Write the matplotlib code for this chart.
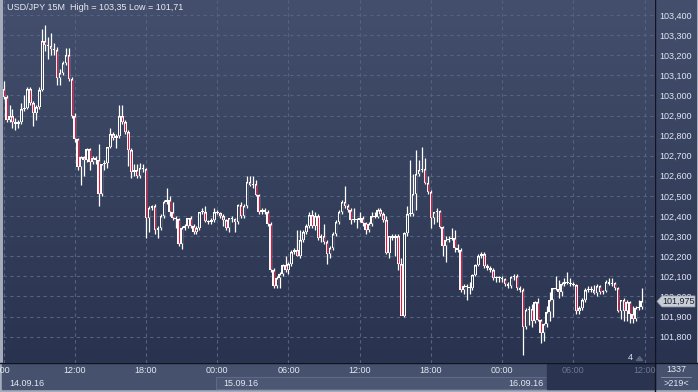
import numpy as np
import matplotlib
matplotlib.use("Agg")
import matplotlib.pyplot as plt
from matplotlib.patches import Rectangle, Polygon
from matplotlib import transforms

# USD/JPY 15 minute candles, 14.09.16 06:00 -> 16.09.16 11:45
opens = [103.03, 102.99, 102.88, 102.90, 102.87, 102.86, 102.87, 102.93, 102.935, 103.03,
         102.96, 102.91, 102.94, 103.025, 103.27, 103.25, 103.245, 103.23, 103.225, 103.085,
         103.11, 103.16, 103.20, 103.08, 102.90, 102.785, 102.645, 102.695, 102.68, 102.735,
         102.67, 102.69, 102.68, 102.51, 102.66, 102.665, 102.745, 102.81, 102.79, 102.80,
         102.90, 102.87, 102.82, 102.73, 102.62, 102.63, 102.60, 102.64, 102.635, 102.39,
         102.44, 102.45, 102.33, 102.34, 102.40, 102.47, 102.48, 102.42, 102.39, 102.385,
         102.26, 102.34, 102.35, 102.39, 102.35, 102.32, 102.34, 102.42, 102.42, 102.375,
         102.37, 102.38, 102.42, 102.415, 102.40, 102.38, 102.34, 102.39, 102.385, 102.37,
         102.455, 102.40, 102.45, 102.57, 102.555, 102.56, 102.505, 102.42, 102.43, 102.42,
         102.36, 102.13, 102.05, 102.09, 102.11, 102.155, 102.13, 102.16, 102.22, 102.23,
         102.20, 102.28, 102.32, 102.35, 102.405, 102.35, 102.40, 102.29, 102.30, 102.27,
         102.21, 102.24, 102.31, 102.37, 102.42, 102.47, 102.45, 102.43, 102.38, 102.385,
         102.38, 102.39, 102.365, 102.33, 102.36, 102.40, 102.395, 102.43, 102.41, 102.38,
         102.215, 102.30, 102.29, 102.30, 102.16, 101.905, 102.315, 102.41, 102.41, 102.51,
         102.61, 102.63, 102.635, 102.565, 102.52, 102.39, 102.42, 102.425, 102.345, 102.25,
         102.28, 102.285, 102.29, 102.24, 102.23, 102.03, 102.05, 102.045, 102.04, 102.105,
         102.155, 102.20, 102.21, 102.15, 102.14, 102.13, 102.09, 102.095, 102.09, 102.085,
         102.06, 102.05, 102.095, 102.10, 102.04, 102.03, 101.85, 101.93, 101.935, 101.88,
         101.97, 101.885, 101.82, 101.865, 101.92, 101.98, 102.04, 102.035, 102.02, 102.06,
         102.07, 102.065, 102.06, 102.058, 101.925, 101.94, 101.98, 102.03, 102.035, 102.03,
         102.015, 102.05, 102.02, 102.025, 102.07, 102.06, 102.065, 102.04, 101.925, 101.98,
         101.925, 101.97, 101.91, 101.89, 101.94, 101.945]
highs = [103.07, 103.00, 102.95, 102.93, 102.89, 102.88, 102.96, 103.00, 103.04, 103.04,
         102.97, 102.95, 103.04, 103.33, 103.35, 103.29, 103.31, 103.26, 103.24, 103.13,
         103.17, 103.235, 103.235, 103.09, 102.91, 102.79, 102.70, 102.70, 102.74, 102.74,
         102.70, 102.70, 102.76, 102.66, 102.68, 102.745, 102.84, 102.82, 102.81, 102.95,
         102.95, 102.88, 102.83, 102.74, 102.66, 102.66, 102.665, 102.66, 102.64, 102.45,
         102.455, 102.46, 102.35, 102.41, 102.48, 102.54, 102.50, 102.47, 102.40, 102.39,
         102.35, 102.36, 102.39, 102.40, 102.36, 102.35, 102.42, 102.44, 102.45, 102.38,
         102.39, 102.44, 102.43, 102.42, 102.41, 102.385, 102.39, 102.40, 102.39, 102.46,
         102.47, 102.46, 102.60, 102.60, 102.60, 102.58, 102.51, 102.44, 102.44, 102.43,
         102.37, 102.14, 102.10, 102.12, 102.16, 102.20, 102.17, 102.23, 102.24, 102.33,
         102.33, 102.33, 102.36, 102.42, 102.43, 102.42, 102.41, 102.31, 102.36, 102.28,
         102.25, 102.32, 102.38, 102.43, 102.48, 102.55, 102.46, 102.44, 102.44, 102.39,
         102.42, 102.40, 102.37, 102.37, 102.42, 102.42, 102.44, 102.44, 102.42, 102.40,
         102.30, 102.31, 102.31, 102.31, 102.19, 102.32, 102.45, 102.68, 102.61, 102.73,
         102.68, 102.745, 102.69, 102.60, 102.53, 102.42, 102.44, 102.43, 102.35, 102.30,
         102.30, 102.34, 102.33, 102.26, 102.24, 102.06, 102.06, 102.07, 102.11, 102.16,
         102.21, 102.22, 102.22, 102.16, 102.15, 102.14, 102.10, 102.10, 102.10, 102.09,
         102.07, 102.10, 102.11, 102.11, 102.05, 102.04, 101.94, 101.95, 101.96, 101.975,
         101.99, 101.89, 101.87, 101.95, 102.02, 102.04, 102.10, 102.08, 102.07, 102.09,
         102.12, 102.09, 102.07, 102.06, 101.95, 101.99, 102.04, 102.05, 102.05, 102.055,
         102.06, 102.055, 102.03, 102.08, 102.09, 102.09, 102.07, 102.045, 101.98, 101.99,
         101.98, 101.975, 101.95, 101.95, 101.98, 102.04]
lows = [102.98, 102.87, 102.87, 102.84, 102.83, 102.84, 102.86, 102.92, 102.93, 102.95,
        102.85, 102.88, 102.93, 103.02, 103.22, 103.18, 103.20, 103.20, 103.05, 103.05,
        103.10, 103.15, 103.07, 102.89, 102.77, 102.63, 102.555, 102.60, 102.67, 102.63,
        102.66, 102.66, 102.45, 102.50, 102.63, 102.64, 102.74, 102.78, 102.74, 102.79,
        102.86, 102.81, 102.65, 102.59, 102.60, 102.59, 102.59, 102.62, 102.29, 102.32,
        102.43, 102.31, 102.29, 102.33, 102.39, 102.46, 102.40, 102.38, 102.34, 102.25,
        102.235, 102.33, 102.34, 102.34, 102.31, 102.31, 102.33, 102.41, 102.37, 102.36,
        102.36, 102.37, 102.41, 102.39, 102.35, 102.33, 102.32, 102.37, 102.32, 102.36,
        102.39, 102.39, 102.44, 102.55, 102.54, 102.50, 102.41, 102.41, 102.41, 102.35,
        102.12, 102.04, 102.04, 102.04, 102.10, 102.12, 102.11, 102.15, 102.21, 102.20,
        102.19, 102.27, 102.31, 102.34, 102.34, 102.33, 102.28, 102.27, 102.26, 102.16,
        102.19, 102.23, 102.30, 102.36, 102.41, 102.44, 102.42, 102.36, 102.37, 102.34,
        102.37, 102.35, 102.31, 102.32, 102.35, 102.39, 102.39, 102.40, 102.37, 102.21,
        102.19, 102.28, 102.20, 102.13, 102.14, 101.90, 102.30, 102.40, 102.40, 102.43,
        102.60, 102.62, 102.56, 102.51, 102.34, 102.36, 102.37, 102.34, 102.20, 102.17,
        102.27, 102.28, 102.22, 102.22, 102.02, 102.01, 101.98, 102.01, 102.03, 102.10,
        102.15, 102.19, 102.14, 102.13, 102.12, 102.08, 102.07, 102.07, 102.07, 102.05,
        102.04, 102.04, 102.08, 102.03, 102.02, 101.71, 101.84, 101.86, 101.85, 101.87,
        101.88, 101.77, 101.78, 101.85, 101.88, 101.90, 102.03, 101.99, 102.00, 102.05,
        102.06, 102.05, 102.05, 101.91, 101.91, 101.93, 101.97, 102.02, 102.02, 102.01,
        102.00, 102.01, 102.01, 102.02, 102.055, 102.05, 102.03, 101.92, 101.89, 101.88,
        101.88, 101.87, 101.87, 101.88, 101.93, 101.935]
closes = opens[1:] + [101.975]

time_labels = ["06:00", "12:00", "18:00", "00:00", "06:00", "12:00", "18:00", "00:00", "06:00", "12:00"]
day_labels = ["14.09.16", "15.09.16", "16.09.16"]
day_start = [0, 72, 168]
symbol = "USD/JPY 15M"

W, H = 698, 392
fig = plt.figure(figsize=(W / 100, H / 100), dpi=100, facecolor="#a4acbc")
plt.rcParams["font.family"] = ["Liberation Sans", "DejaVu Sans"]

# background panels in pixel coordinates
bg = fig.add_axes([0, 0, 1, 1], zorder=0)
bg.set_xlim(0, W)
bg.set_ylim(H, 0)
bg.axis("off")

top_col = np.array([67, 79, 108]) / 255
bot_col = np.array([41, 51, 80]) / 255
grad = np.linspace(0, 1, 256)[:, None, None] * (bot_col - top_col) + top_col
bg.imshow(np.repeat(grad, 2, axis=1), extent=(655, 697, 363, 0), aspect="auto", zorder=0)
bg.add_patch(Rectangle((2, 363), 695, 26, color="#45516d", zorder=1))
bg.add_patch(Rectangle((216, 377), 331, 12, facecolor="#4b5773", edgecolor="#5d6985", lw=0.8, zorder=1))
bg.add_patch(Rectangle((547, 363), 108, 26, color="#2a3350", zorder=1))
bg.plot([0, W], [363, 363], color="#10141e", lw=1.0, zorder=2)
bg.plot([655, 655], [0, H], color="#10141e", lw=1.0, zorder=2)

# main chart
ax = fig.add_axes([3 / W, 29 / H, 652 / W, 363 / H], zorder=1)
ax.set_facecolor("none")
for s in ax.spines.values():
    s.set_visible(False)
ax.imshow(np.repeat(grad, 2, axis=1), extent=(0, 1, 0, 1), transform=ax.transAxes,
          aspect="auto", zorder=0)

# overlay for things drawn above the price scale
fg = fig.add_axes([0, 0, 1, 1], zorder=2)
fg.set_xlim(0, W)
fg.set_ylim(H, 0)
fg.axis("off")
fg.patch.set_visible(False)

n = len(closes)
x = np.arange(n)
o = np.array(opens)
c = np.array(closes)
hi = np.array(highs)
lo = np.array(lows)

ylo = 103.4 - (363 - 15) * 0.004975
yhi = 103.4 + 15 * 0.004975
ax.set_ylim(ylo, yhi)
ax.set_xlim(-0.2, 219.5)

yt = np.arange(101.8, 103.401, 0.1)
ax.set_xticks(np.arange(0, 217, 24))
ax.set_yticks(yt)
ax.grid(True, color="#56627f", lw=0.8, linestyle=(0, (3, 3)), zorder=1)
ax.tick_params(axis="x", length=0, labelbottom=False)
ax.yaxis.tick_right()
ax.tick_params(axis="y", length=0, pad=3, labelsize=6.5, labelcolor="#dfe6f4")
ax.set_yticklabels([("%.3f" % v).replace(".", ",") for v in yt])

px = (yhi - ylo) / 363
ax.vlines(x, lo, hi, color="white", lw=0.9, zorder=3)
top = np.maximum(o, c)
bot = np.minimum(o, c)
ax.bar(x, np.maximum(top - bot, px), bottom=bot, width=0.9, color="white", lw=0, zorder=3)
inner_lo = bot + px
inner_hi = top - px
bear = c < o
m = inner_hi > inner_lo
ax.vlines(x[m & bear], inner_lo[m & bear], inner_hi[m & bear], color="#e3173f", lw=0.8, zorder=4)
mid = (inner_lo + inner_hi) / 2
frac = np.clip((yhi - mid) / (yhi - ylo), 0, 1)
bull_cols = [tuple(top_col + f * (bot_col - top_col)) for f in frac[m & ~bear]]
ax.vlines(x[m & ~bear], inner_lo[m & ~bear], inner_hi[m & ~bear], colors=bull_cols, lw=0.7, zorder=4)

ax.text(4 / 652, 1 - 8 / 363, f"{symbol}  High = {('%.2f' % hi.max()).replace('.', ',')} "
        f"Low = {('%.2f' % lo.min()).replace('.', ',')}", transform=ax.transAxes,
        color="#e8ebf2", fontsize=6.5, va="center", ha="left", zorder=5)

# time axis labels
tx = transforms.blended_transform_factory(ax.transData, fg.transData)
clip = Rectangle((3, 363), 652, 28, transform=fg.transData, visible=False)
fg.add_patch(clip)
for k, lab in enumerate(time_labels):
    col = "#e3e8f2" if k * 24 < 180 else "#6b7691"
    t = fg.text(k * 24 - (1.5 if k == 0 else 0), 370.5, lab, transform=tx, ha="center", va="center",
                fontsize=6.5, color=col)
    t.set_clip_path(clip)
for d, lab in zip(day_start, day_labels):
    fg.text(d + 2, 383.5, lab, transform=tx, ha="left", va="center",
            fontsize=6.5, color="#e3e8f2")

# last price tag over the price scale
ty = transforms.blended_transform_factory(fg.transData, ax.transData)
last = c[-1]
h = 5.5 * px
fg.add_patch(Polygon([(657, last), (662, last + h), (695, last + h), (695, last - h), (662, last - h)],
                     closed=True, transform=ty, facecolor="#c9cdd5", edgecolor="#9aa0ab", lw=0.5))
fg.text(678.5, last, ("%.3f" % last).replace(".", ","), transform=ty, ha="center", va="center",
        fontsize=6.5, color="#1c2233")

fg.text(676, 369.5, "1337", ha="center", va="center", fontsize=6.5, color="#e3e8f2")
fg.plot([661, 691], [376.5, 376.5], color="#8a94aa", lw=0.6)
fg.text(676, 383.5, ">219<", ha="center", va="center", fontsize=6.5, color="#e3e8f2")
fg.text(630.5, 357, "4", ha="center", va="center", fontsize=6.5, color="#d8deea")
fg.add_patch(Polygon([(636.5, 360.5), (639.5, 356.5), (642.5, 360.5)], closed=True,
                     color="#59647f"))

fig.savefig("out.png", dpi=100, facecolor=fig.get_facecolor())
